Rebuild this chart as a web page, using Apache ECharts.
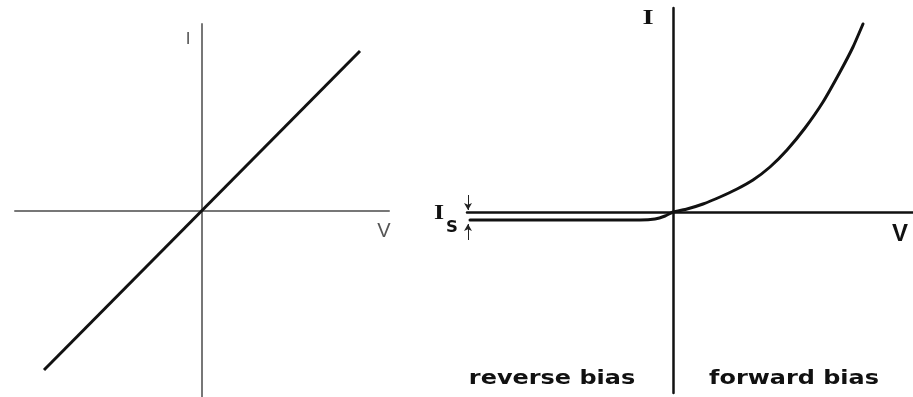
<!DOCTYPE html>
<html>
<head>
<meta charset="utf-8">
<style>
  html, body { margin: 0; padding: 0; background: #fff; }
  #chart { width: 913px; height: 397px; }
</style>
<script src="https://cdn.jsdelivr.net/npm/echarts@6/dist/echarts.min.js"></script>
</head>
<body>
<div id="chart"></div>
<script>
  /* ---------- data ---------- */
  // ohmic resistor: straight line through the origin
  const ohmicLine = [[-0.845, -0.855], [0.845, 0.855]];

  // diode I-V curve (V, I)
  const diodeCurve = [
    [-2.03, -0.08], [-1.10, -0.08], [-0.33, -0.08], [-0.18, -0.07], [-0.08, -0.04],
    [0.00, 0.00], [0.14, 0.03], [0.30, 0.08], [0.47, 0.15], [0.64, 0.23],
    [0.80, 0.32], [0.97, 0.45], [1.14, 0.62], [1.32, 0.84], [1.50, 1.10],
    [1.67, 1.40], [1.80, 1.65], [1.90, 1.88]
  ];

  // Is arrows: from -> to
  const isArrows = [
    [[-2.05, 0.17], [-2.05, 0.02]],
    [[-2.05, -0.28], [-2.05, -0.12]]
  ];

  const leftRange = { xMin: -1, xMax: 1, yMin: -1, yMax: 1 };
  const rightRange = { xMin: -2.06, xMax: 2.40, yMin: -1.81, yMax: 2.04 };

  /* ---------- axis helpers ---------- */
  function axis(gridIndex, min, max, color, width) {
    return {
      type: 'value', gridIndex: gridIndex, min: min, max: max,
      axisLine: { show: true, onZero: true, lineStyle: { color: color, width: width } },
      axisTick: { show: false }, axisLabel: { show: false }, splitLine: { show: false }
    };
  }

  function label(text, x, y, font, size, weight, color, sx) {
    return {
      type: 'text', x: x, y: y, scaleX: sx || 1, silent: true,
      style: {
        text: text, fontFamily: font, fontSize: size, fontWeight: weight,
        fill: color, textAlign: 'center', textVerticalAlign: 'middle'
      }
    };
  }

  const chart = echarts.init(document.getElementById('chart'), null, { renderer: 'canvas' });

  chart.setOption({
    animation: false,
    backgroundColor: '#fff',
    grid: [
      { left: 15, top: 24, width: 374, height: 373 },
      { left: 467, top: 8, width: 446, height: 385 }
    ],
    xAxis: [
      axis(0, leftRange.xMin, leftRange.xMax, '#777', 2),
      axis(1, rightRange.xMin, rightRange.xMax, '#111', 2.5)
    ],
    yAxis: [
      axis(0, leftRange.yMin, leftRange.yMax, '#777', 2),
      axis(1, rightRange.yMin, rightRange.yMax, '#111', 2.5)
    ],
    series: [
      {
        type: 'line', xAxisIndex: 0, yAxisIndex: 0, data: ohmicLine,
        showSymbol: false, lineStyle: { color: '#111', width: 3 }, silent: true
      },
      {
        type: 'line', xAxisIndex: 1, yAxisIndex: 1, data: diodeCurve,
        smooth: 0.15, showSymbol: false,
        lineStyle: { color: '#111', width: 3, join: 'round', cap: 'round' }, silent: true,
        markLine: {
          silent: true, symbol: ['none', 'arrow'], symbolSize: [6, 7],
          label: { show: false },
          lineStyle: { color: '#222', width: 1, type: 'solid' },
          data: isArrows.map(function (a) {
            return [{ coord: a[0] }, { coord: a[1] }];
          })
        }
      }
    ],
    graphic: [
      label('I', 188, 39, 'Liberation Sans', 17, 'normal', '#555'),
      label('V', 384, 231, 'Liberation Sans', 20, 'normal', '#555'),
      label('I', 648, 18, 'Liberation Serif', 22, 'bold', '#111', 1.3),
      label('V', 900, 234, 'Liberation Sans', 24, 'bold', '#111'),
      label('I', 439, 214, 'Liberation Serif', 20, 'bold', '#111', 1.3),
      label('S', 452, 228, 'DejaVu Sans', 15, 'bold', '#111', 1.1),
      label('reverse bias', 552, 379, 'DejaVu Sans', 19, 'bold', '#111', 1.26),
      label('forward bias', 794, 379, 'DejaVu Sans', 19, 'bold', '#111', 1.26)
    ]
  });
</script>
</body>
</html>
